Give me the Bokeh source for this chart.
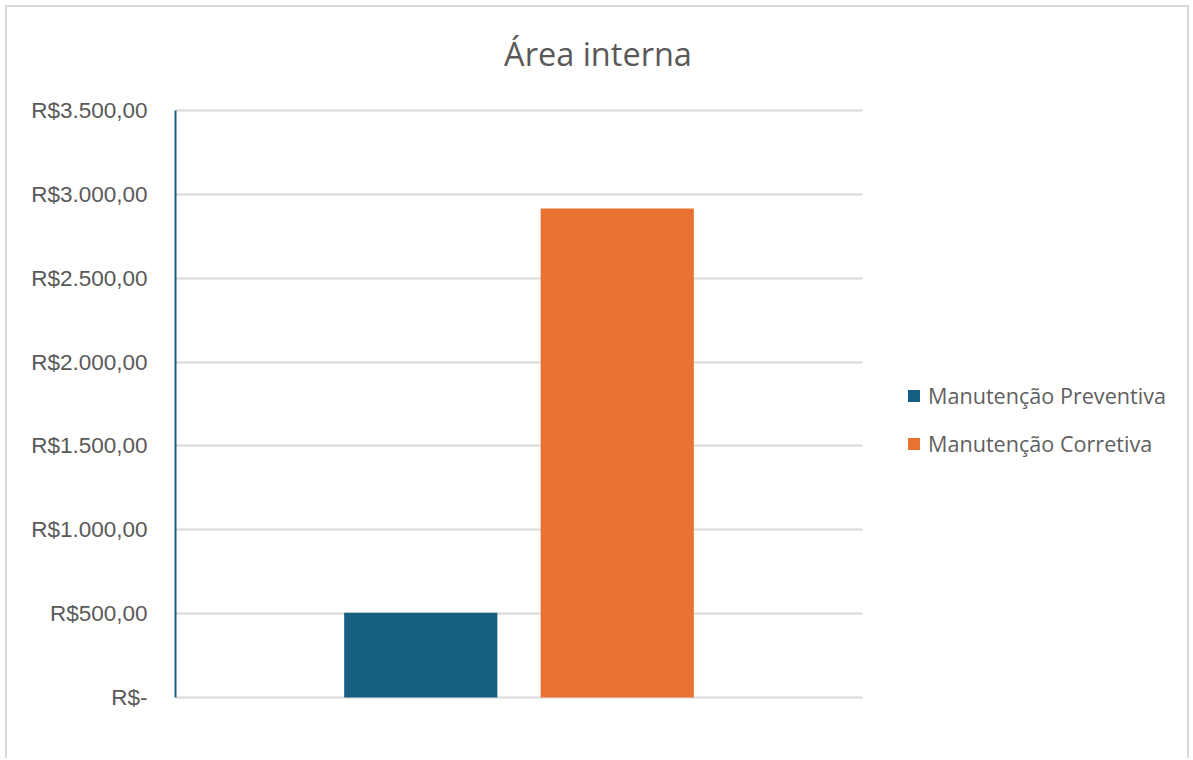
from bokeh.plotting import figure
from bokeh.models import (Range1d, FixedTicker, Legend, LegendItem, Label,
                          ColumnDataSource)
from bokeh.transform import dodge
from bokeh.embed import file_html
from bokeh.resources import INLINE

title_text = "Área interna"
categories = ["Área interna"]
series_names = ["Manutenção Preventiva", "Manutenção Corretiva"]
preventiva = [505]
corretiva = [2915]
series_colors = ["#156082", "#E97132"]
y_ticks = [0, 500, 1000, 1500, 2000, 2500, 3000, 3500]
y_tick_labels = ["R$-", "R$500,00", "R$1.000,00", "R$1.500,00", "R$2.000,00",
                 "R$2.500,00", "R$3.000,00", "R$3.500,00"]

# content box (inside a CSS border starting 5px from window edge)
W, H = 1184, 753
FL = 168                      # left border for the y axis labels
PX_PER_CAT = 687.0            # width of the category slot in pixels
PX_PER_VAL = 587.0 / 3500.0   # pixels per R$
AX_TOP, AX_BOTTOM = 103, 690  # where 3500 and 0 sit in the content box

x_end = (W - FL) / PX_PER_CAT
y_start = -(H - AX_BOTTOM) / PX_PER_VAL
y_end = 3500 + AX_TOP / PX_PER_VAL

p = figure(width=W, height=H, x_range=Range1d(0, x_end),
           y_range=Range1d(y_start, y_end), output_backend="svg",
           toolbar_location=None, min_border_left=FL, min_border_right=0,
           min_border_top=0, min_border_bottom=0,
           styles={"margin-left": "5px", "margin-top": "5px",
                   "border-left": "2px solid #d9d9d9",
                   "border-top": "2px solid #d9d9d9",
                   "border-right": "2px solid #d9d9d9"})
p.outline_line_color = None
p.background_fill_color = "white"
p.border_fill_color = "white"

# category slot centres (index + 0.5 in category units)
cat_pos = [i + 0.5 for i in range(len(categories))]
src = ColumnDataSource(dict(cat=cat_pos, prev=preventiva, corr=corretiva))
r1 = p.vbar(x=dodge("cat", -0.143), top="prev", width=0.223,
            source=src, color=series_colors[0], line_color=None)
r2 = p.vbar(x=dodge("cat", 0.143), top="corr", width=0.223,
            source=src, color=series_colors[1], line_color=None)

p.xaxis.visible = False
p.xgrid.grid_line_color = None
p.ygrid.grid_line_color = "#d9d9d9"
p.ygrid.grid_line_width = 2
p.ygrid.ticker = FixedTicker(ticks=y_ticks)
p.ygrid.cross_bounds = (0, len(categories))

ya = p.yaxis[0]
ya.ticker = FixedTicker(ticks=y_ticks)
ya.bounds = (0, 3500)
ya.major_label_overrides = {t: l for t, l in zip(y_ticks, y_tick_labels)}
ya.major_tick_in = 0
ya.major_tick_out = 0
ya.minor_tick_in = 0
ya.minor_tick_out = 0
ya.axis_line_color = "#156082"
ya.axis_line_width = 2
ya.major_label_standoff = 28
ya.major_label_text_font = "Liberation Sans"
ya.major_label_text_font_size = "22.5px"
ya.major_label_text_color = "#595959"

p.add_layout(Label(x=(W + 2) / 2 - FL - 2.5, y=H - 45.5, x_units="screen",
                   y_units="screen", text=title_text, text_align="center",
                   text_baseline="middle", text_font="Open Sans",
                   text_font_size="32.5px", text_color="#595959"))

legend = Legend(items=[LegendItem(label=series_names[0], renderers=[r1]),
                       LegendItem(label=series_names[1], renderers=[r2])],
                location=(731, 302), padding=0, margin=0, border_line_color=None,
                background_fill_alpha=0, glyph_width=15, glyph_height=15,
                label_height=24, spacing=19, label_standoff=7,
                label_text_font="Open Sans", label_text_font_size="21.6px",
                label_text_color="#5f5f5f")
p.add_layout(legend, "center")

open("out.html", "w").write(file_html(p, INLINE))
